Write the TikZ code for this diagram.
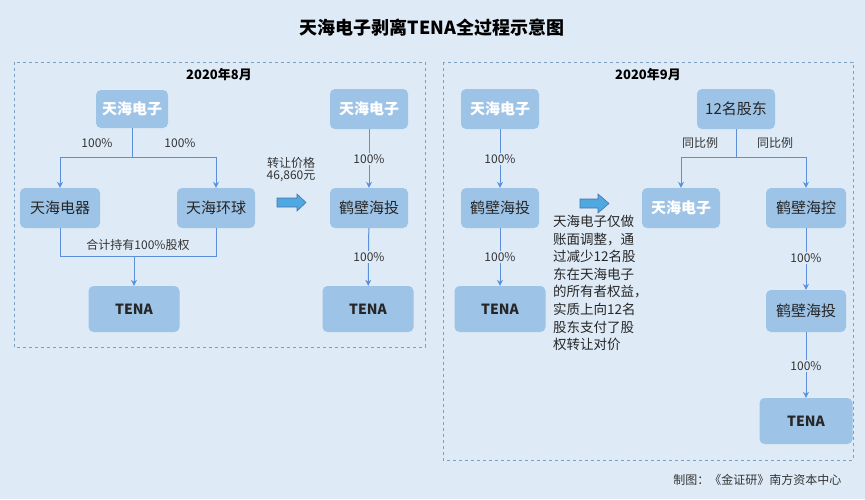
\documentclass[tikz,border=0pt]{standalone}
\usepackage{fontspec}
\setmainfont{Noto Sans CJK SC}
\usetikzlibrary{arrows.meta}
\definecolor{bg}{HTML}{DEEBF7}
\definecolor{bx}{HTML}{9DC3E6}
\definecolor{ln}{HTML}{5B8FD9}
\definecolor{blkc}{HTML}{4FA8E0}
\definecolor{dashc}{HTML}{7F9FBF}
\begin{document}
\begin{tikzpicture}[x=1pt,y=-1pt,
 box/.style={fill=bx,rounded corners=5pt,minimum width=78pt,minimum height=40pt,inner sep=0pt,font=\fontsize{15}{15}\selectfont,text=black!85},
 wbox/.style={box,text=white,font=\fontsize{15}{15}\selectfont\bfseries},
 tbox/.style={box,minimum width=91pt,minimum height=46pt,font=\fontsize{14}{14}\selectfont\bfseries},
 con/.style={draw=ln,line width=1pt},
 arr/.style={con,-{Stealth[length=6pt,width=6pt]}},
 lab/.style={font=\fontsize{12}{12}\selectfont,text=black!80},
 blk/.style={fill=blkc,draw=ln!80!black,line width=0.6pt}]
\fill[bg] (0,0) rectangle (865,499);
\useasboundingbox (0,0) rectangle (865,499);
\node[font=\fontsize{18}{18}\selectfont\bfseries] (title) at (432,28) {天海电子剥离TENA全过程示意图};
\draw[dashc,dashed] (14,62) rectangle (425,347);
\draw[dashc,dashed] (443,62) rectangle (853,460);
\node[font=\fontsize{13}{13}\selectfont\bfseries] (t8) at (219,75) {2020年8月};
\node[font=\fontsize{13}{13}\selectfont\bfseries] (t9) at (648,75) {2020年9月};
% left
\node[wbox,minimum width=72pt,minimum height=38pt] (A) at (132,109) {天海电子};
\node[box,minimum width=80pt] (B) at (60,208) {天海电器};
\node[box] (C) at (216,208) {天海环球};
\node[tbox] (D) at (134,309) {TENA};
\coordinate (a1) at (132,157);
\draw[con] (A.south) -- (a1);
\draw[arr] (a1) -| (B.north);
\draw[arr] (a1) -| (C.north);
\node[lab] (l1) at (97,143) {100\%};
\node[lab] (l2) at (180,143) {100\%};
\coordinate (d1) at (134,256);
\draw[con] (B.south) |- (d1);
\draw[con] (C.south) |- (d1);
\draw[arr] (d1) -- (D.north);
\node[lab] (l3) at (138,245) {合计持有100\%股权};
\node[lab,align=center] (l4) at (291,170) {转让价格\\46,860元};
\draw[blk] (277,198) -- (297,198) -- (297,194) -- (306,202.5) -- (297,211) -- (297,207) -- (277,207) -- cycle;
\node[wbox] (E) at (369,109) {天海电子};
\node[box] (F) at (369,208) {鹤壁海投};
\node[tbox] (G) at (368,309) {TENA};
\draw[arr] (E) -- (F);
\draw[arr] (F) -- (G);
\node[lab,fill=bg,inner sep=1pt] (l5) at (369,159) {100\%};
\node[lab,fill=bg,inner sep=1pt] (l6) at (369,257) {100\%};
% right
\node[wbox] (H) at (500,109) {天海电子};
\node[box] (I) at (500,208) {鹤壁海投};
\node[tbox] (J) at (500,309) {TENA};
\draw[arr] (H) -- (I);
\draw[arr] (I) -- (J);
\node[lab,fill=bg,inner sep=1pt] (l7) at (500,159) {100\%};
\node[lab,fill=bg,inner sep=1pt] (l8) at (500,257) {100\%};
\draw[blk] (580,199) -- (598,199) -- (598,194) -- (609,203.5) -- (598,213) -- (598,208) -- (580,208) -- cycle;
\node[anchor=north west,align=left,font=\fontsize{13.5}{17.6}\selectfont,text=black!85,inner sep=0pt] (txt) at (553,215) {天海电子仅做\\账面调整，通\\过减少12名股\\东在天海电子\\的所有者权益，\\实质上向12名\\股东支付了股\\权转让对价};
\node[box] (K) at (736,109) {12名股东};
\node[wbox] (L) at (681,208) {天海电子};
\node[box,minimum width=80pt] (M) at (806,208) {鹤壁海控};
\node[box,minimum width=80pt,minimum height=42pt] (N) at (806,311) {鹤壁海投};
\node[tbox,minimum width=93pt] (O) at (806,421) {TENA};
\coordinate (k1) at (736,157);
\draw[con] (K.south) -- (k1);
\draw[arr] (k1) -| (L.north);
\draw[arr] (k1) -| (M.north);
\node[lab] (l9) at (700,143) {同比例};
\node[lab] (l10) at (775,143) {同比例};
\draw[arr] (M) -- (N);
\draw[arr] (N) -- (O);
\node[lab,fill=bg,inner sep=1pt] (l11) at (806,258) {100\%};
\node[lab,fill=bg,inner sep=1pt] (l12) at (806,366) {100\%};
\node[lab,anchor=east] (foot) at (845,480) {制图：《金证研》南方资本中心};
\end{tikzpicture}
\end{document}
